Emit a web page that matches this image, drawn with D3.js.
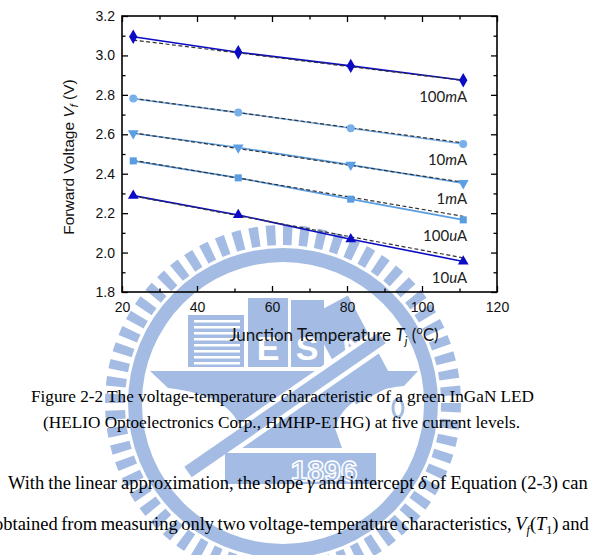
<!DOCTYPE html>
<html>
<head>
<meta charset="utf-8">
<script src="https://cdn.jsdelivr.net/npm/d3@7/dist/d3.min.js"></script>
<style>
  body { margin: 0; background: #fff; }
  svg { display: block; }
</style>
</head>
<body>
<div id="page"></div>
<script>
// data
const temps = [23, 51, 81, 111];
const currents = ["100mA", "10mA", "1mA", "100uA", "10uA"];
const v100mA = [3.095, 3.016, 2.947, 2.874];
const v10mA = [2.781, 2.710, 2.631, 2.551];
const v1mA = [2.605, 2.533, 2.445, 2.352];
const v100uA = [2.465, 2.379, 2.271, 2.166];
const v10uA = [2.289, 2.191, 2.068, 1.955];
// linear fits (dashed), value at first and last temperature
const fitStart = [3.078, 2.782, 2.607, 2.468, 2.287];
const fitEnd = [2.873, 2.556, 2.357, 2.184, 1.973];
const xTicks = [20, 40, 60, 80, 100, 120];
const yTicks = [1.8, 2.0, 2.2, 2.4, 2.6, 2.8, 3.0, 3.2];

const captionLines = [
    "Figure 2-2 The voltage-temperature characteristic of a green InGaN LED",
    "(HELIO Optoelectronics Corp., HMHP-E1HG) at five current levels."
];

let W = 589, H = 555;
let margin = {left: 122, top: 16};
let pw = 375, ph = 276;

let dark = "#0b0bc6";
let seriesColors = [dark, "#78b0ea", "#5c9fe2", "#5a9de0", dark];
let seriesSymbols = [d3.symbolDiamond, d3.symbolCircle, d3.symbolTriangle, d3.symbolSquare, d3.symbolTriangle];
let symbolRotate = [0, 0, 180, 0, 0];
let seriesValues = [v100mA, v10mA, v1mA, v100uA, v10uA];

let svg = d3.select("#page").append("svg")
    .attr("width", W)
    .attr("height", H);

// ---- watermark (school emblem), drawn first so everything sits on top
let wm = "#a4bce3";
let wg = svg.append("g").attr("fill", wm);
let cx = 283, cy = 403;
let nRays = 64;
let rayArc = d3.arc().innerRadius(158).outerRadius(178);
d3.range(nRays).forEach(function (i) {
    let a = i * 2 * Math.PI / nRays;
    wg.append("path")
        .attr("transform", "translate(" + cx + "," + cy + ")")
        .attr("d", rayArc({startAngle: a, endAngle: a + 0.55 * 2 * Math.PI / nRays}));
});
wg.append("path")
    .attr("transform", "translate(" + cx + "," + cy + ")")
    .attr("d", d3.arc().innerRadius(141).outerRadius(155)({startAngle: 0, endAngle: 2 * Math.PI}));

// striped block
wg.append("rect").attr("x", 188).attr("y", 315).attr("width", 56).attr("height", 52);
d3.range(8).forEach(function (i) {
    wg.append("rect").attr("x", 194).attr("y", 320 + i * 6).attr("width", 46).attr("height", 2.5).attr("fill", "#fff");
});
wg.append("rect").attr("x", 248).attr("y", 298).attr("width", 40).attr("height", 69);
wg.append("rect").attr("x", 291).attr("y", 300).attr("width", 33).attr("height", 67);
wg.append("text").attr("x", 268).attr("y", 360).attr("text-anchor", "middle")
    .attr("fill", "#fff").style("font", "bold 34px 'Liberation Sans'").text("E");
wg.append("text").attr("x", 307).attr("y", 360).attr("text-anchor", "middle")
    .attr("fill", "#fff").style("font", "bold 34px 'Liberation Sans'").text("S");
wg.append("g").attr("transform", "translate(352,350) rotate(-28)")
    .call(function (g) {
        g.append("rect").attr("x", -22).attr("y", -50).attr("width", 44).attr("height", 100);
        g.append("text").attr("y", 10).attr("text-anchor", "middle").attr("fill", "#fff")
            .style("font", "bold 32px 'Liberation Sans'").text("A");
    });
// anvil
wg.append("path")
    .attr("d", "M150,371 L418,371 L404,386 Q345,392 335,428 L342,448 L232,448 L240,428 Q230,395 168,388 Z");
// hammer handle
wg.append("line").attr("x1", 188).attr("y1", 472).attr("x2", 382).attr("y2", 338)
    .attr("stroke", "#fff").attr("stroke-width", 22);
wg.append("line").attr("x1", 188).attr("y1", 472).attr("x2", 382).attr("y2", 338)
    .attr("stroke", wm).attr("stroke-width", 13);
// base with year
wg.append("rect").attr("x", 225).attr("y", 453).attr("width", 151).attr("height", 31);
wg.append("text").attr("x", 324).attr("y", 481).attr("text-anchor", "middle")
    .attr("fill", wm).attr("stroke", "#fff").attr("stroke-width", 1.5)
    .style("font", "bold 30px 'Liberation Sans'").text("1896");
wg.append("ellipse").attr("cx", 398).attr("cy", 408).attr("rx", 5).attr("ry", 9)
    .attr("fill", "none").attr("stroke", wm).attr("stroke-width", 3);

// ---- chart
let xScale = d3.scaleLinear().domain([20, 120]).range([0, pw]);
let yScale = d3.scaleLinear().domain([1.8, 3.2]).range([ph, 0]);

let plot = svg.append("g")
    .attr("transform", "translate(" + margin.left + "," + margin.top + ")");

let tickFont = "14px 'Liberation Sans', Arial, sans-serif";
let xMinor = d3.range(30, 120, 20);
let yMinor = [1.9, 2.1, 2.3, 2.5, 2.7, 2.9, 3.1];

function styleAxis(g) {
    g.select(".domain").remove();
    g.selectAll("line").attr("stroke", "#000").attr("stroke-width", 1.3);
    g.selectAll("text").style("font", tickFont).attr("fill", "#111");
}

plot.append("g")
    .attr("transform", "translate(0," + ph + ")")
    .call(d3.axisBottom(xScale).tickValues(xTicks).tickSize(-6).tickPadding(10).tickFormat(d3.format("d")))
    .call(styleAxis);
plot.append("g")
    .attr("transform", "translate(0," + ph + ")")
    .call(d3.axisBottom(xScale).tickValues(xMinor).tickSize(-3.5).tickFormat(""))
    .call(styleAxis);
plot.append("g")
    .call(d3.axisTop(xScale).tickValues(xTicks).tickSize(-6).tickFormat(""))
    .call(styleAxis);
plot.append("g")
    .call(d3.axisTop(xScale).tickValues(xMinor).tickSize(-3.5).tickFormat(""))
    .call(styleAxis);

plot.append("g")
    .call(d3.axisLeft(yScale).tickValues(yTicks).tickSize(-6).tickPadding(7).tickFormat(d3.format(".1f")))
    .call(styleAxis);
plot.append("g")
    .call(d3.axisLeft(yScale).tickValues(yMinor).tickSize(-3.5).tickFormat(""))
    .call(styleAxis);
plot.append("g")
    .attr("transform", "translate(" + pw + ",0)")
    .call(d3.axisRight(yScale).tickValues(yTicks).tickSize(-6).tickFormat(""))
    .call(styleAxis);
plot.append("g")
    .attr("transform", "translate(" + pw + ",0)")
    .call(d3.axisRight(yScale).tickValues(yMinor).tickSize(-3.5).tickFormat(""))
    .call(styleAxis);

plot.append("rect")
    .attr("width", pw)
    .attr("height", ph)
    .attr("fill", "none")
    .attr("stroke", "#000")
    .attr("stroke-width", 1.6);

let line = d3.line()
    .x(function (d) { return xScale(d[0]); })
    .y(function (d) { return yScale(d[1]); });

seriesValues.forEach(function (vals, i) {
    let pts = temps.map(function (t, j) { return [t, vals[j]]; });

    plot.append("path")
        .attr("d", line(pts))
        .attr("fill", "none")
        .attr("stroke", seriesColors[i])
        .attr("stroke-width", 1.6);

    plot.append("path")
        .attr("d", line([[temps[0], fitStart[i]], [temps[temps.length - 1], fitEnd[i]]]))
        .attr("fill", "none")
        .attr("stroke", "#333")
        .attr("stroke-width", 1.2)
        .attr("stroke-dasharray", "4,2.5");

    plot.selectAll(null)
        .data(pts)
        .enter()
        .append("path")
        .attr("d", d3.symbol().type(seriesSymbols[i]).size(i === 0 ? 60 : 50))
        .attr("transform", function (d) {
            return "translate(" + xScale(d[0]) + "," + yScale(d[1]) + ") rotate(" + symbolRotate[i] + ")";
        })
        .attr("fill", seriesColors[i]);

    // label under the last point, unit prefix in italics
    let name = currents[i];
    let lbl = plot.append("text")
        .attr("x", xScale(temps[temps.length - 1]) + 4)
        .attr("y", yScale(vals[vals.length - 1]) + 16)
        .attr("dy", "0.35em")
        .attr("text-anchor", "end")
        .style("font", "15px Lato, sans-serif")
        .attr("fill", "#222");
    lbl.append("tspan").text(name.slice(0, -2));
    lbl.append("tspan").style("font-style", "italic").text(name.slice(-2, -1));
    lbl.append("tspan").text(name.slice(-1));
});

// axis titles
let yt = svg.append("text")
    .attr("transform", "translate(69,157) rotate(-90)")
    .attr("text-anchor", "middle")
    .attr("dy", "0.35em")
    .style("font", "15.5px 'Liberation Sans', Arial, sans-serif")
    .attr("fill", "#111");
yt.append("tspan").text("Forward Voltage ");
yt.append("tspan").style("font-style", "italic").text("V");
yt.append("tspan").style("font-style", "italic").style("font-size", "11px").attr("dy", 4).text("f");
yt.append("tspan").attr("dy", -4).text(" (V)");

let xt = svg.append("text")
    .attr("x", 334)
    .attr("y", 341)
    .attr("text-anchor", "middle")
    .style("font", "17px Lato, sans-serif")
    .attr("fill", "#111");
xt.append("tspan").text("Junction Temperature ");
xt.append("tspan").style("font-style", "italic").text("T");
xt.append("tspan").style("font-style", "italic").style("font-size", "12px").attr("dy", 4).text("j");
xt.append("tspan").attr("dy", -4).text(" (");
xt.append("tspan").style("font-size", "11px").attr("dy", -7).text("o");
xt.append("tspan").attr("dy", 7).text("C)");

// ---- caption
let serif = "'Liberation Serif', 'Times New Roman', serif";
svg.append("text")
    .attr("x", 31).attr("y", 402)
    .attr("textLength", 503).attr("lengthAdjust", "spacingAndGlyphs")
    .style("font", "17px " + serif).attr("fill", "#000")
    .text(captionLines[0]);
svg.append("text")
    .attr("x", 43).attr("y", 428)
    .attr("textLength", 477).attr("lengthAdjust", "spacingAndGlyphs")
    .style("font", "17px " + serif).attr("fill", "#000")
    .text(captionLines[1]);

// ---- body text (justified, cut by the page edge)
function justify(sel, word, targetX) {
    let node = sel.node();
    let str = node.textContent;
    let idx = str.lastIndexOf(word);
    let natural = node.getStartPositionOfChar(idx).x;
    let nSpaces = (str.slice(0, idx).match(/ /g) || []).length;
    sel.style("word-spacing", ((targetX - natural) / nSpaces) + "px");
}

let body1 = svg.append("text")
    .attr("x", 8).attr("y", 489)
    .style("font", "18.5px " + serif).attr("fill", "#000");
body1.append("tspan").text("With the linear approximation, the slope ");
body1.append("tspan").style("font-style", "italic").text("γ");
body1.append("tspan").text(" and intercept ");
body1.append("tspan").style("font-style", "italic").text("δ");
body1.append("tspan").text(" of Equation (2-3) can be");
justify(body1, "can", 562);

let body2 = svg.append("text")
    .attr("x", -6).attr("y", 530)
    .style("font", "18.5px " + serif).attr("fill", "#000");
body2.append("tspan").text("obtained from measuring only two voltage-temperature characteristics, ");
body2.append("tspan").style("font-style", "italic").text("V");
body2.append("tspan").style("font-style", "italic").style("font-size", "12px").attr("dy", 4).text("f");
body2.append("tspan").attr("dy", -4).text("(");
body2.append("tspan").style("font-style", "italic").text("T");
body2.append("tspan").style("font-size", "12px").attr("dy", 4).text("1");
body2.append("tspan").attr("dy", -4).text(") and");
justify(body2, "and", 562);
</script>
</body>
</html>
